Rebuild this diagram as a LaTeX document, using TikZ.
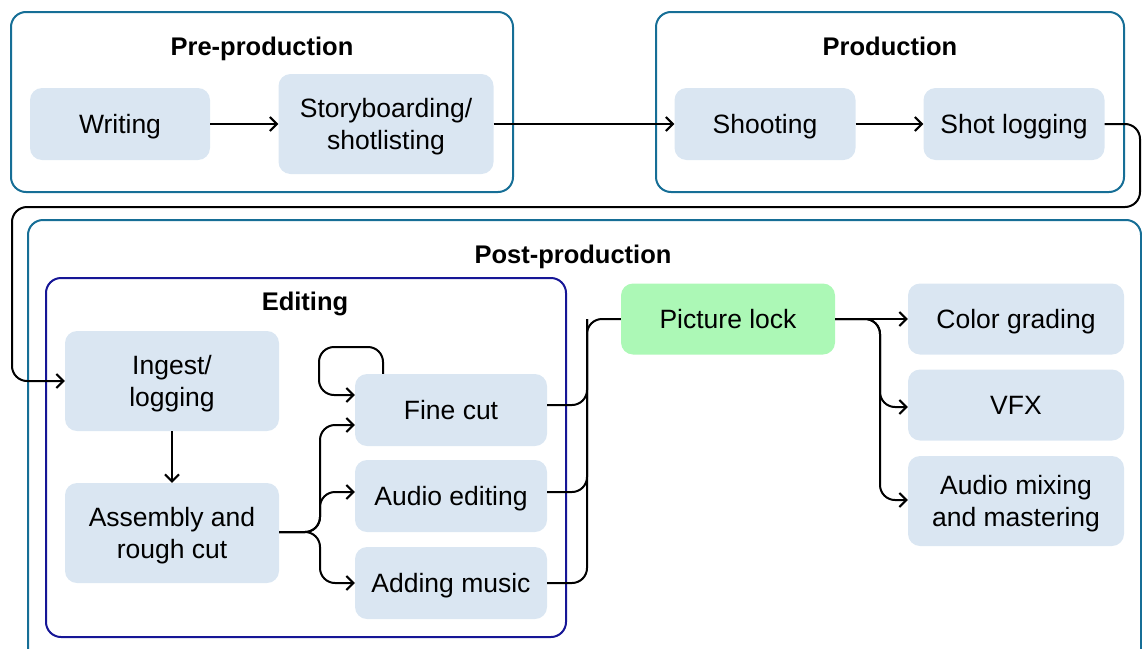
\documentclass[tikz,border=0pt]{standalone}
\usepackage{fontspec}
\setmainfont{Liberation Sans}
\usetikzlibrary{arrows.meta}
\definecolor{teal}{RGB}{22,110,150}
\definecolor{navy}{RGB}{22,22,150}
\definecolor{boxfill}{RGB}{218,230,242}
\definecolor{lockfill}{RGB}{172,248,182}
\tikzset{
  group/.style={draw=teal, line width=2pt, rounded corners=15pt},
  edgroup/.style={draw=navy, line width=2pt, rounded corners=15pt},
  gtitle/.style={font=\fontsize{25.5}{30}\selectfont\bfseries, text height=18.5pt, text depth=0pt},
  stepbox/.style={fill=boxfill, rounded corners=12pt, align=center, font=\fontsize{26.5}{32}\selectfont, inner sep=0pt, text height=19pt, text depth=0pt},
  twoline/.style={text height=51pt, text depth=0pt},
  conn/.style={line width=2pt, rounded corners=15pt, -{Straight Barb[length=7pt,width=14pt,line width=2pt]}},
  plain/.style={line width=2pt, rounded corners=15pt},
}
\begin{document}
\begin{tikzpicture}[x=1pt,y=-1pt]
\useasboundingbox (0,0) rectangle (1142,648);
% groups
\draw[group] (11,12) rectangle (513,192);
\node[gtitle] (pretitle) at (262,46) {Pre-production};
\draw[group] (656,12) rectangle (1124,192);
\node[gtitle] (prodtitle) at (890,46) {Production};
\draw[group] (28,220) rectangle (1141,680);
\node[gtitle] (posttitle) at (573,254) {Post-production};
\draw[edgroup] (46,278) rectangle (566,637);
\node[gtitle] (edtitle) at (305,301) {Editing};
% nodes
\node[stepbox, minimum width=180pt, minimum height=72pt] (writing) at (120,124) {Writing};
\node[stepbox, twoline, minimum width=215pt, minimum height=100pt] (story) at (386,124) {Storyboarding/\\shotlisting};
\node[stepbox, minimum width=181pt, minimum height=72pt] (shoot) at (765,124) {Shooting};
\node[stepbox, minimum width=181pt, minimum height=72pt] (shotlog) at (1014,124) {Shot logging};
\node[stepbox, twoline, minimum width=214pt, minimum height=100pt] (ingest) at (172,381) {Ingest/\\logging};
\node[stepbox, twoline, minimum width=214pt, minimum height=100pt] (asm) at (172,533) {Assembly and\\rough cut};
\node[stepbox, minimum width=192pt, minimum height=72pt] (fine) at (451,410) {Fine cut};
\node[stepbox, minimum width=192pt, minimum height=72pt] (audio) at (451,496) {Audio editing};
\node[stepbox, minimum width=192pt, minimum height=72pt] (music) at (451,583) {Adding music};
\node[stepbox, fill=lockfill, minimum width=214pt, minimum height=71pt] (lock) at (728,319) {Picture lock};
\node[stepbox, minimum width=216pt, minimum height=71pt] (color) at (1016,319) {Color grading};
\node[stepbox, minimum width=216pt, minimum height=71pt] (vfx) at (1016,405) {VFX};
\node[stepbox, twoline, minimum width=216pt, minimum height=90pt] (mix) at (1016,501) {Audio mixing\\and mastering};
% connectors
\draw[conn] (writing) -- (story);
\draw[conn] (story) -- (shoot);
\draw[conn] (shoot) -- (shotlog);
\coordinate (c1) at (1140,207);
\coordinate (c2) at (12,381);
\draw[conn] (shotlog.east) -| (c1) -| (c2) -- (ingest.west);
\draw[conn] (ingest) -- (asm);
\coordinate (br) at (320,532);
\draw[conn] (asm.east |- br) -- (br) |- ([yshift=-15pt]fine.west);
\draw[conn] (asm.east |- br) -- (br) |- ([yshift=4pt]audio.west);
\draw[conn] (asm.east |- br) -- (br) |- (music.west);
\coordinate (lp) at (319,347);
\draw[conn] ([xshift=-68pt]fine.north) |- (lp) |- ([yshift=15pt]fine.west);
\coordinate (mg) at (587,319);
\draw[plain] ([yshift=5pt]fine.east) -| (mg) -- (lock.west);
\draw[plain] ([yshift=4pt]audio.east) -| (mg);
\draw[plain] (music.east) -| (mg);
\coordinate (sp) at (880,319);
\draw[conn] (lock.east) -- (color.west);
\draw[conn] (lock.east) -- (sp) |- ([yshift=-2pt]vfx.west);
\draw[conn] (lock.east) -- (sp) |- ([yshift=1pt]mix.west);
\end{tikzpicture}
\end{document}
